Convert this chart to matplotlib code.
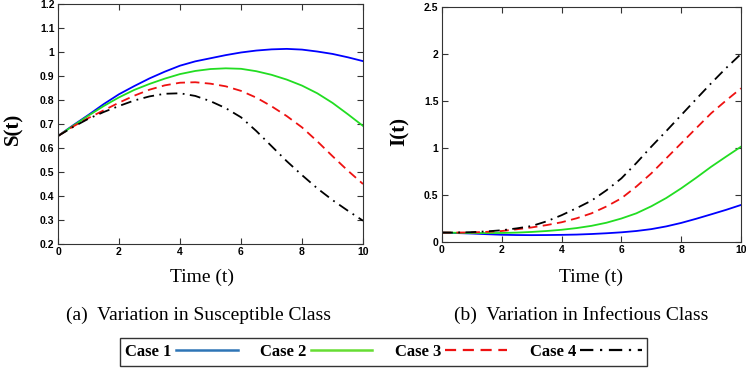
import matplotlib
matplotlib.use("Agg")
import matplotlib.pyplot as plt
from matplotlib.lines import Line2D

t = [0, 0.5, 1, 1.5, 2, 2.5, 3, 3.5, 4, 4.5, 5, 5.5, 6, 6.5, 7, 7.5, 8, 8.5, 9, 9.5, 10]

S_case1 = [0.65, 0.695, 0.738, 0.783, 0.824, 0.858, 0.890, 0.918, 0.943, 0.961, 0.974, 0.987, 0.998, 1.006, 1.011, 1.013, 1.010, 1.002, 0.992, 0.978, 0.962]
S_case2 = [0.65, 0.693, 0.735, 0.775, 0.811, 0.842, 0.867, 0.889, 0.908, 0.921, 0.929, 0.932, 0.930, 0.920, 0.905, 0.885, 0.860, 0.828, 0.788, 0.741, 0.692]
S_case3 = [0.65, 0.690, 0.725, 0.757, 0.789, 0.818, 0.843, 0.861, 0.872, 0.874, 0.868, 0.857, 0.838, 0.810, 0.774, 0.733, 0.686, 0.628, 0.566, 0.506, 0.450]
S_case4 = [0.65, 0.688, 0.722, 0.750, 0.775, 0.798, 0.815, 0.826, 0.828, 0.817, 0.795, 0.766, 0.728, 0.671, 0.608, 0.545, 0.487, 0.432, 0.383, 0.339, 0.297]

I_case1 = [0.10, 0.095, 0.090, 0.083, 0.077, 0.074, 0.073, 0.074, 0.076, 0.079, 0.085, 0.093, 0.103, 0.117, 0.137, 0.166, 0.203, 0.247, 0.294, 0.342, 0.394]
I_case2 = [0.10, 0.098, 0.096, 0.095, 0.096, 0.100, 0.107, 0.117, 0.130, 0.148, 0.172, 0.205, 0.250, 0.305, 0.380, 0.468, 0.571, 0.683, 0.800, 0.908, 1.014]
I_case3 = [0.10, 0.100, 0.102, 0.108, 0.117, 0.135, 0.155, 0.180, 0.210, 0.252, 0.305, 0.378, 0.465, 0.590, 0.730, 0.890, 1.050, 1.210, 1.369, 1.505, 1.635]
I_case4 = [0.10, 0.101, 0.105, 0.113, 0.125, 0.145, 0.170, 0.220, 0.285, 0.360, 0.440, 0.550, 0.677, 0.840, 1.014, 1.180, 1.350, 1.520, 1.688, 1.850, 2.000]

case_labels = ["Case 1", "Case 2", "Case 3", "Case 4"]
S_ticks = [0.2, 0.3, 0.4, 0.5, 0.6, 0.7, 0.8, 0.9, 1.0, 1.1, 1.2]
S_ticklabels = ["0.2", "0.3", "0.4", "0.5", "0.6", "0.7", "0.8", "0.9", "1", "1.1", "1.2"]
I_ticks = [0, 0.5, 1, 1.5, 2, 2.5]
I_ticklabels = ["0", "0.5", "1", "1.5", "2", "2.5"]
x_ticks = [0, 2, 4, 6, 8, 10]

line_colors = ["#0000ff", "#22dd22", "#ee1111", "#000000"]
legend_colors = ["#2e75b6", "#66dd33", "#ee1111", "#000000"]
styles = ["-", "-", (0, (5, 3)), (0, (6, 3, 1, 3))]

fig = plt.figure(figsize=(7.46, 3.68), dpi=100)
axS = fig.add_axes([58/746, 1-244/368, 305/746, 240/368])
axI = fig.add_axes([442/746, 1-242/368, 299/746, 235/368])

for ys, c, ls in zip([S_case1, S_case2, S_case3, S_case4], line_colors, styles):
    axS.plot(t, ys, color=c, linestyle=ls, linewidth=1.3)
for ys, c, ls in zip([I_case1, I_case2, I_case3, I_case4], line_colors, styles):
    axI.plot(t, ys, color=c, linestyle=ls, linewidth=1.3)

tickfont = dict(family="Liberation Sans", weight="bold", size=7.5)
for ax, yt, ytl, ylim in [(axS, S_ticks, S_ticklabels, (0.2, 1.2)), (axI, I_ticks, I_ticklabels, (0, 2.5))]:
    ax.set_xlim(0, 10)
    ax.set_ylim(*ylim)
    ax.set_xticks(x_ticks)
    ax.set_xticklabels([str(v) for v in x_ticks], fontdict=tickfont)
    ax.set_yticks(yt)
    ax.set_yticklabels(ytl, fontdict=tickfont)
    ax.tick_params(direction="in", top=True, right=True, length=4, width=0.8, pad=2.5, color="#333333")
    for sp in ax.spines.values():
        sp.set_linewidth(0.8)
        sp.set_color("#333333")

serif = "Liberation Serif"
fig.text(13.5/746, 1-129/368, "S(t)", rotation=90, ha="center", va="center", family=serif, weight="bold", fontsize=15)
fig.text(400/746, 1-131/368, "I(t)", rotation=90, ha="center", va="center", family=serif, weight="bold", fontsize=15)
fig.text(202/746, 1-277/368, "Time (t)", ha="center", va="center", family=serif, fontsize=14)
fig.text(591/746, 1-277/368, "Time (t)", ha="center", va="center", family=serif, fontsize=14)
fig.text(198/746, 1-315/368, "(a)  Variation in Susceptible Class", ha="center", va="center", family=serif, fontsize=14)
fig.text(581/746, 1-315/368, "(b)  Variation in Infectious Class", ha="center", va="center", family=serif, fontsize=14)

handles = [Line2D([0], [0], color=c, linestyle=ls, linewidth=1.8 if i < 2 else 1.6)
           for i, (c, ls) in enumerate(zip(legend_colors, styles))]
leg = fig.legend(handles, case_labels, loc="center", bbox_to_anchor=(383.5/746, 1-352/368),
                 ncol=4, markerfirst=False, frameon=True, fancybox=False,
                 prop=dict(family=serif, weight="bold", size=12),
                 handlelength=3.7, handletextpad=0.25, columnspacing=1.35,
                 borderpad=0.35, borderaxespad=0)
leg.get_frame().set_edgecolor("black")
leg.get_frame().set_linewidth(1.0)

fig.savefig("out.png", dpi=100)
